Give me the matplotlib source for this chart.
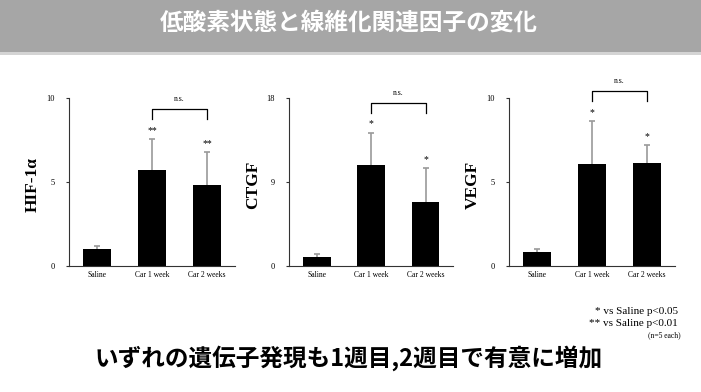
import numpy as np
import matplotlib.pyplot as plt
from matplotlib.patches import Rectangle

# data
groups = ['Saline', 'Car 1 week', 'Car 2 weeks']

hif_mean = [1.0, 5.72, 4.82]
hif_sd = [0.18, 1.85, 1.98]
hif_stars = ['', '**', '**']

ctgf_mean = [0.97, 10.8, 6.9]
ctgf_sd = [0.25, 3.5, 3.6]
ctgf_stars = ['', '*', '*']

vegf_mean = [0.8, 6.06, 6.15]
vegf_sd = [0.18, 2.58, 1.05]
vegf_stars = ['', '*', '*']

jp_font = ['Noto Sans CJK JP', 'DejaVu Sans']
serif = 'Liberation Serif'

fig = plt.figure(figsize=(7.01, 3.92), dpi=100)
W, H = 701, 392

# grey header band
fig.patches.append(Rectangle((0, 1 - 52 / H), 1, 52 / H, transform=fig.transFigure,
                             facecolor='#a6a6a6', edgecolor='none'))
fig.patches.append(Rectangle((0, 1 - 55 / H), 1, 3 / H, transform=fig.transFigure,
                             facecolor='#d4d4d4', edgecolor='none'))
fig.text(0.497, 1 - 23 / H, '低酸素状態と線維化関連因子の変化', color='white',
         fontsize=17, fontweight='bold', family=jp_font, ha='center', va='center')


def panel(left_px, width_px, mean, sd, stars, ymax, label):
    ax = fig.add_axes([left_px / W, (H - 265.7) / H, width_px / W, 167.4 / H])
    x = np.arange(len(groups))
    bars = ax.bar(x, mean, width=0.51, color='black',
                  yerr=[np.zeros(len(sd)), sd],
                  error_kw=dict(ecolor='#9a9a9a', elinewidth=1.2, capsize=2, capthick=1.2))
    caps = bars.errorbar.lines[1]
    caps[0].set_visible(False)
    caps[1].set_color('black')
    ax.set_xlim(-0.51, 2.51)
    ax.set_ylim(0, ymax)
    ax.set_yticks([0, ymax / 2, ymax])
    ax.set_yticklabels(['0', f'{ymax / 2:g}', f'{ymax:g}'])
    ax.set_xticks(x)
    ax.set_xticklabels(groups)
    for s in ['top', 'right']:
        ax.spines[s].set_visible(False)
    for s in ['left', 'bottom']:
        ax.spines[s].set_linewidth(0.8)
        ax.spines[s].set_color('#333333')
    ax.tick_params(axis='y', length=2.5, width=0.8, pad=8, labelsize=6, color='#333333')
    ax.tick_params(axis='x', length=0, pad=4, labelsize=5.5)
    for t in ax.get_xticklabels() + ax.get_yticklabels():
        t.set_family(serif)
    ax.set_ylabel(label, family=serif, fontweight='bold', fontsize=12.5)
    ax.yaxis.set_label_coords(-0.17, 0.485)

    tops = np.array(mean) + np.array(sd)
    for xi, top, st in zip(x, tops, stars):
        if st:
            ax.annotate(st, (xi, top), xytext=(0, 3), textcoords='offset points',
                        ha='center', va='bottom', fontsize=7, family=serif,
                        annotation_clip=False)
    # bracket between week 1 and week 2
    yb = tops.max() + 0.18 * ymax
    yl = yb - 0.06 * ymax
    ax.plot([1, 1, 2, 2], [yl, yb, yb, yl], color='black', lw=0.9, clip_on=False)
    ax.annotate('n.s.', (1.5, yb), xytext=(0, 4), textcoords='offset points',
                ha='center', va='bottom', fontsize=5.5, family=serif,
                annotation_clip=False)
    return ax


panel(69.3, 165.7, hif_mean, hif_sd, hif_stars, 10, 'HIF-1α')
panel(289.3, 164.0, ctgf_mean, ctgf_sd, ctgf_stars, 18, 'CTGF')
panel(509.3, 165.7, vegf_mean, vegf_sd, vegf_stars, 10, 'VEGF')

# significance notes
fig.text(678 / W, 1 - 311 / H, '* vs Saline p<0.05', family=serif, fontsize=8,
         ha='right', va='center')
fig.text(678 / W, 1 - 323 / H, '** vs Saline p<0.01', family=serif, fontsize=8,
         ha='right', va='center')
fig.text(681 / W, 1 - 335 / H, '(n=5 each)', family=serif, fontsize=5.5,
         ha='right', va='center')

fig.text(0.497, 1 - 358 / H, 'いずれの遺伝子発現も1週目,2週目で有意に増加', color='black',
         fontsize=17, fontweight='bold', family=jp_font, ha='center', va='center')

fig.savefig('out.png', dpi=100)
